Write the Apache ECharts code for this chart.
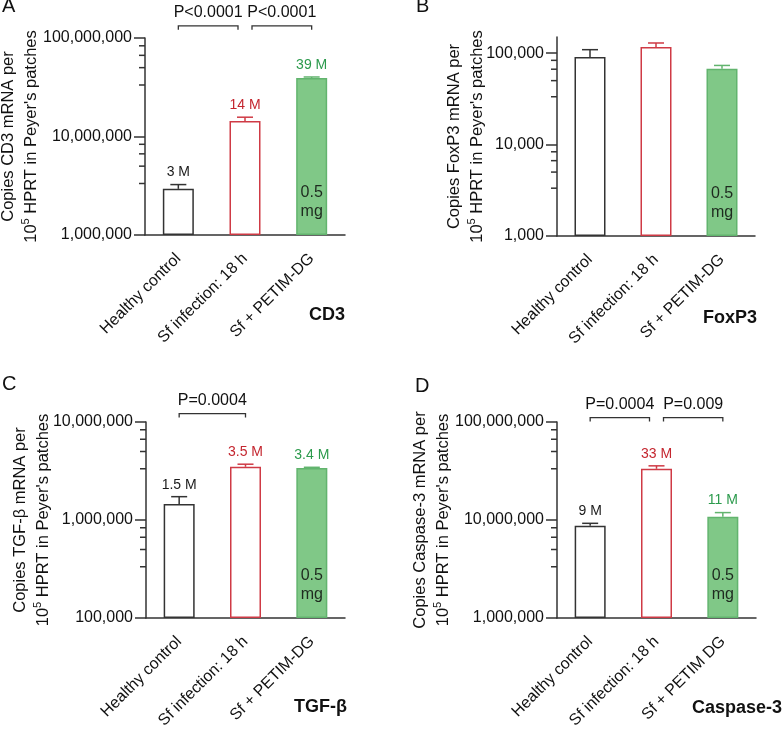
<!DOCTYPE html>
<html>
<head>
<meta charset="utf-8">
<script src="https://cdn.jsdelivr.net/npm/echarts@6/dist/echarts.min.js"></script>
<style>
  html, body { margin: 0; padding: 0; background: #fff; }
  #chart { width: 784px; height: 729px; }
</style>
</head>
<body>
<div id="chart"></div>
<script>
const FONT = "'Liberation Sans', Arial, sans-serif";

// categories
const groups = ['Healthy control', 'Sf infection: 18 h', 'Sf + PETIM-DG'];
const groupsD = ['Healthy control', 'Sf infection: 18 h', 'Sf + PETIM DG'];

// A - CD3
const cd3Mean = [2.94e6, 14.4e6, 39.3e6];
const cd3Err = [3.25e6, 15.7e6, 40.2e6];
const cd3Labels = ['3 M', '14 M', '39 M'];
const cd3Ticks = [1e6, 1e7, 1e8];
// [from, to, bracket height, text]
const cd3Pvals = [[0, 1, 1.33e8, 'P<0.0001'], [1, 2, 1.33e8, 'P<0.0001']];

// B - FoxP3
const foxMean = [90600, 116600, 67500];
const foxErr = [109000, 129000, 73300];
const foxLabels = [null, null, null];
const foxTicks = [1e3, 1e4, 1e5];
const foxPvals = [];

// C - TGF-beta
const tgfMean = [1.455e6, 3.49e6, 3.40e6];
const tgfErr = [1.73e6, 3.71e6, 3.45e6];
const tgfLabels = ['1.5 M', '3.5 M', '3.4 M'];
const tgfTicks = [1e5, 1e6, 1e7];
const tgfPvals = [[0, 1, 1.22e7, 'P=0.0004']];

// D - Caspase-3
const caspMean = [8.75e6, 33.3e6, 10.8e6];
const caspErr = [9.25e6, 35.7e6, 11.9e6];
const caspLabels = ['9 M', '33 M', '11 M'];
const caspTicks = [1e6, 1e7, 1e8];
const caspPvals = [[0, 1, 1.11e8, 'P=0.0004'], [1, 2, 1.11e8, 'P=0.009']];

// minor ticks inside each decade
const minorSteps = [10 / 3, 5, 20 / 3, 25 / 3];
const doseLabel = '0.5\nmg';

const fills = ['#ffffff', '#ffffff', '#80c887'];
const borders = ['#333333', '#cf3a45', '#62b46e'];
const labelColors = ['#1a1a1a', '#c4262f', '#2b9a4c'];
const axisColor = '#333333';

const panels = [
  { letter: 'A', gene: 'CD3', yName: 'CD3', cats: groups, mean: cd3Mean, err: cd3Err, labels: cd3Labels,
    ticks: cd3Ticks, pvals: cd3Pvals, min: 1e6, max: 1e8,
    grid: { left: 145, top: 38, width: 200, height: 197 }, nameGap: 102,
    letterPos: [2, -4], genePos: [345, 315] },
  { letter: 'B', gene: 'FoxP3', yName: 'FoxP3', cats: groups, mean: foxMean, err: foxErr, labels: foxLabels,
    ticks: foxTicks, pvals: foxPvals, min: 1e3, max: 1.5e5,
    grid: { left: 557, top: 37, width: 198, height: 199 }, nameGap: 68,
    letterPos: [416, -4], genePos: [757, 318] },
  { letter: 'C', gene: 'TGF-β', yName: 'TGF-β', cats: groups, mean: tgfMean, err: tgfErr, labels: tgfLabels,
    ticks: tgfTicks, pvals: tgfPvals, min: 1e5, max: 1e7,
    grid: { left: 146, top: 422, width: 199, height: 196 }, nameGap: 91,
    letterPos: [2, 374], genePos: [347, 707] },
  { letter: 'D', gene: 'Caspase-3', yName: 'Caspase-3', cats: groupsD, mean: caspMean, err: caspErr, labels: caspLabels,
    ticks: caspTicks, pvals: caspPvals, min: 1e6, max: 1e8,
    grid: { left: 557, top: 422, width: 199, height: 196 }, nameGap: 102,
    letterPos: [415, 376], genePos: [782, 708] }
];

function minorTicks(min, max) {
  const res = [];
  for (let d = min; d < max; d *= 10) {
    minorSteps.forEach(function (m) {
      const v = d * m;
      if (v < max) res.push(v);
    });
  }
  return res;
}

function fmt(v) {
  return Math.round(v).toLocaleString('en-US');
}

function renderMinorTick(params, api) {
  const y = api.coord([0, api.value(1)])[1];
  const x = params.coordSys.x;
  return { type: 'line', shape: { x1: x - 6, y1: y, x2: x, y2: y }, style: { stroke: axisColor, lineWidth: 1.5 } };
}

function makeBracketRenderer(list) {
  return function (params, api) {
    const item = list[params.dataIndex];
    const a = api.coord([item[0], item[2]]);
    const b = api.coord([item[1], item[2]]);
    const shared = function (idx) {
      return list.some(function (o, j) {
        return j !== params.dataIndex && (o[0] === idx || o[1] === idx);
      });
    };
    let x0 = a[0], x1 = b[0];
    if (shared(item[0])) x0 += 7;
    if (shared(item[1])) x1 -= 7;
    const y = a[1];
    return {
      type: 'group',
      children: [
        { type: 'polyline', shape: { points: [[x0, y + 4], [x0, y], [x1, y], [x1, y + 4]] },
          style: { stroke: axisColor, lineWidth: 1.3, fill: null } },
        { type: 'text', style: { text: item[3], x: (x0 + x1) / 2, y: y - 5, align: 'center', verticalAlign: 'bottom',
          fontSize: 16, fontFamily: FONT, fill: '#111' } }
      ]
    };
  };
}

function makeErrorRenderer(labels) {
  return function (params, api) {
    const ci = api.value(0);
    const top = api.coord([ci, api.value(1)]);
    const base = api.coord([ci, api.value(2)]);
    const color = borders[ci];
    const children = [
      { type: 'line', shape: { x1: top[0], y1: base[1], x2: top[0], y2: top[1] }, style: { stroke: color, lineWidth: 1.5 } },
      { type: 'line', shape: { x1: top[0] - 8, y1: top[1], x2: top[0] + 8, y2: top[1] }, style: { stroke: color, lineWidth: 1.5 } }
    ];
    if (labels[ci]) {
      children.push({ type: 'text', style: { text: labels[ci], x: top[0], y: top[1] - 5, align: 'center',
        verticalAlign: 'bottom', fontSize: 14, fontFamily: FONT, fill: labelColors[ci] } });
    }
    return { type: 'group', children: children };
  };
}

const grids = [], xAxes = [], yAxes = [], series = [], graphics = [];

panels.forEach(function (p, i) {
  grids.push(Object.assign({ containLabel: false, outerBoundsMode: 'none' }, p.grid));
  xAxes.push({
    type: 'category', gridIndex: i, data: p.cats,
    axisLine: { lineStyle: { color: axisColor, width: 1.5 } },
    axisTick: { alignWithLabel: true, length: 8, lineStyle: { color: axisColor, width: 1.5 } },
    axisLabel: { rotate: 45, fontSize: 16, margin: 21, color: '#111', fontFamily: FONT, interval: 0 }
  });
  yAxes.push({
    type: 'log', logBase: 10, gridIndex: i, position: 'left', min: p.min, max: p.max, startValue: p.min,
    name: 'Copies ' + p.yName + ' mRNA per\n{n|10}{s|5}{n| HPRT in Peyer\'s patches}',
    nameLocation: 'middle', nameGap: p.nameGap, nameRotate: 90, nameMoveOverlap: false,
    nameTextStyle: { fontSize: 16.5, fontFamily: FONT, color: '#111', lineHeight: 23,
      rich: { n: { fontSize: 16.5, fontFamily: FONT, color: '#111', lineHeight: 23 },
              s: { fontSize: 11, fontFamily: FONT, color: '#111', lineHeight: 23, verticalAlign: 'top' } } },
    axisLine: { show: true, lineStyle: { color: axisColor, width: 1.5 } },
    axisTick: { show: true, length: 11, customValues: p.ticks, lineStyle: { color: axisColor, width: 1.5 } },
    axisLabel: { customValues: p.ticks, formatter: fmt, fontSize: 16, margin: 13, color: '#111', fontFamily: FONT },
    splitLine: { show: false }
  });
  series.push({
    type: 'bar', xAxisIndex: i, yAxisIndex: i, barWidth: 31, animation: false,
    data: p.mean.map(function (v, k) {
      return {
        value: v,
        itemStyle: { color: fills[k], borderColor: borders[k], borderWidth: 1.5 },
        label: { show: k === 2, position: 'insideBottom', distance: 14, formatter: doseLabel,
          fontSize: 16, lineHeight: 19, color: '#1e2a1f', fontFamily: FONT }
      };
    })
  });
  series.push({
    type: 'custom', xAxisIndex: i, yAxisIndex: i, animation: false, silent: true,
    renderItem: renderMinorTick,
    data: minorTicks(p.min, p.max).map(function (v) { return [0, v]; }),
    z: 4
  });
  series.push({
    type: 'custom', xAxisIndex: i, yAxisIndex: i, animation: false,
    renderItem: makeErrorRenderer(p.labels),
    data: p.mean.map(function (v, k) { return [k, p.err[k], v]; }),
    z: 3
  });
  if (p.pvals.length) {
    series.push({
      type: 'custom', xAxisIndex: i, yAxisIndex: i, animation: false,
      renderItem: makeBracketRenderer(p.pvals),
      data: p.pvals.map(function (o) { return [o[0], o[2]]; }),
      z: 3
    });
  }
  graphics.push({ type: 'text', left: p.letterPos[0], top: p.letterPos[1],
    style: { text: p.letter, fontSize: 20, fontFamily: FONT, fill: '#111' } });
  graphics.push({ type: 'text', x: p.genePos[0], y: p.genePos[1],
    style: { text: p.gene, fontSize: 18, fontWeight: 'bold', fontFamily: FONT, fill: '#111',
      align: 'right', verticalAlign: 'middle' } });
});

const chart = echarts.init(document.getElementById('chart'));
chart.setOption({
  backgroundColor: '#ffffff',
  animation: false,
  textStyle: { fontFamily: FONT },
  grid: grids,
  xAxis: xAxes,
  yAxis: yAxes,
  series: series,
  graphic: graphics
});
</script>
</body>
</html>
